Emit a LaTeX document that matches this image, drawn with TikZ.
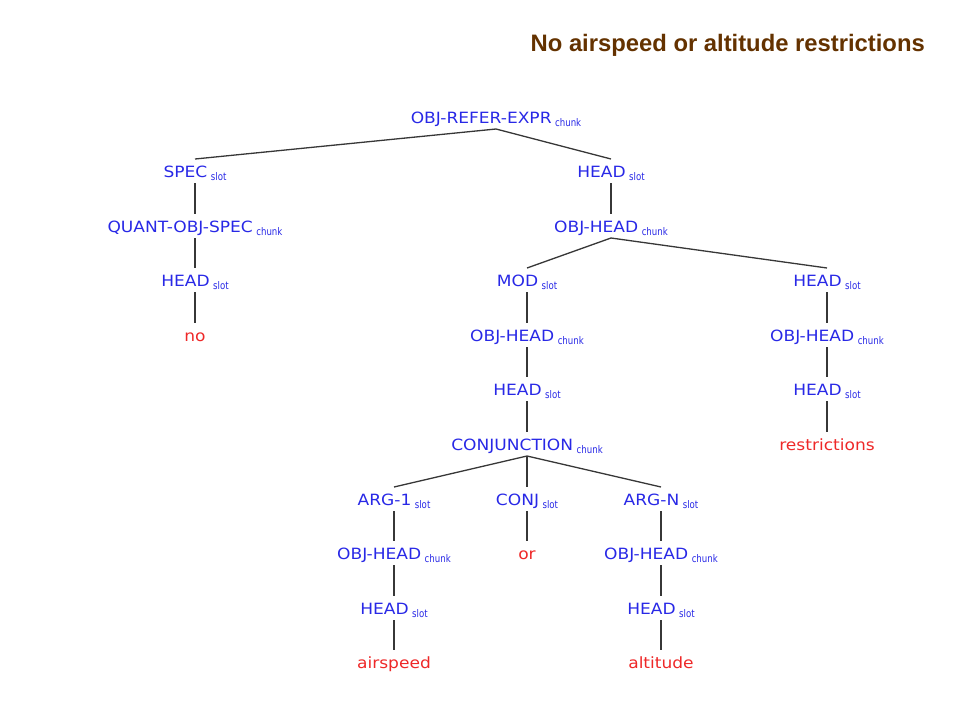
\documentclass[tikz,border=0pt]{standalone}
\usepackage{fontspec}
\newfontfamily\lblfont[FakeStretch=1.1]{DejaVu Sans}
\newfontfamily\subfont[FakeStretch=0.82]{DejaVu Sans}
\newfontfamily\ttlfont{Liberation Sans}
\definecolor{nodeblue}{RGB}{40,40,230}
\definecolor{wordred}{RGB}{238,40,40}
\definecolor{titlebrown}{RGB}{100,50,0}
\definecolor{edgegray}{RGB}{55,55,55}
\newcommand{\lab}[2]{#1\hspace{3.5pt}\raisebox{-3pt}{\subfont\fontsize{10.5}{12}\selectfont #2}}
\tikzset{
  cat/.style={anchor=base, inner sep=0pt, text=nodeblue, font=\lblfont\fontsize{15.5}{18}\selectfont},
  word/.style={anchor=base, inner sep=0pt, text=wordred, font=\lblfont\fontsize{15.5}{18}\selectfont},
  edge/.style={draw=edgegray, line width=1.3pt}
}
\newcommand{\tline}[2]{\draw[edge] ([yshift=-6pt]#1.base) -- ([yshift=18pt]#2.base);}
\begin{document}
\begin{tikzpicture}[x=1pt,y=-1pt]
\useasboundingbox (0,0) rectangle (960,720);
\node[anchor=base east, inner sep=0pt, text=titlebrown, font=\ttlfont\bfseries\fontsize{23.8}{26}\selectfont] (title) at (925,51) {No airspeed or altitude restrictions};
% rows by baseline
\node[cat] (root) at (496,123) {\lab{OBJ-REFER-EXPR}{chunk}};
\node[cat] (spec) at (195,177) {\lab{SPEC}{slot}};
\node[cat] (head1) at (611,177) {\lab{HEAD}{slot}};
\node[cat] (quant) at (195,232) {\lab{QUANT-OBJ-SPEC}{chunk}};
\node[cat] (objh1) at (611,232) {\lab{OBJ-HEAD}{chunk}};
\node[cat] (headq) at (195,286) {\lab{HEAD}{slot}};
\node[cat] (mod) at (527,286) {\lab{MOD}{slot}};
\node[cat] (head2) at (827,286) {\lab{HEAD}{slot}};
\node[word] (no) at (195,341) {no};
\node[cat] (objh2) at (527,341) {\lab{OBJ-HEAD}{chunk}};
\node[cat] (objh3) at (827,341) {\lab{OBJ-HEAD}{chunk}};
\node[cat] (head3) at (527,395) {\lab{HEAD}{slot}};
\node[cat] (head4) at (827,395) {\lab{HEAD}{slot}};
\node[cat] (conj) at (527,450) {\lab{CONJUNCTION}{chunk}};
\node[word] (restr) at (827,450) {restrictions};
\node[cat] (arg1) at (394,505) {\lab{ARG-1}{slot}};
\node[cat] (conjs) at (527,505) {\lab{CONJ}{slot}};
\node[cat] (argn) at (661,505) {\lab{ARG-N}{slot}};
\node[cat] (objh4) at (394,559) {\lab{OBJ-HEAD}{chunk}};
\node[word] (or) at (527,559) {or};
\node[cat] (objh5) at (661,559) {\lab{OBJ-HEAD}{chunk}};
\node[cat] (head5) at (394,614) {\lab{HEAD}{slot}};
\node[cat] (head6) at (661,614) {\lab{HEAD}{slot}};
\node[word] (air) at (394,668) {airspeed};
\node[word] (alt) at (661,668) {altitude};
% connectors
\tline{root}{spec}
\tline{root}{head1}
\tline{spec}{quant}
\tline{quant}{headq}
\tline{headq}{no}
\tline{head1}{objh1}
\tline{objh1}{mod}
\tline{objh1}{head2}
\tline{mod}{objh2}
\tline{objh2}{head3}
\tline{head3}{conj}
\tline{head2}{objh3}
\tline{objh3}{head4}
\tline{head4}{restr}
\tline{conj}{arg1}
\tline{conj}{conjs}
\tline{conj}{argn}
\tline{arg1}{objh4}
\tline{objh4}{head5}
\tline{head5}{air}
\tline{conjs}{or}
\tline{argn}{objh5}
\tline{objh5}{head6}
\tline{head6}{alt}
\end{tikzpicture}
\end{document}
